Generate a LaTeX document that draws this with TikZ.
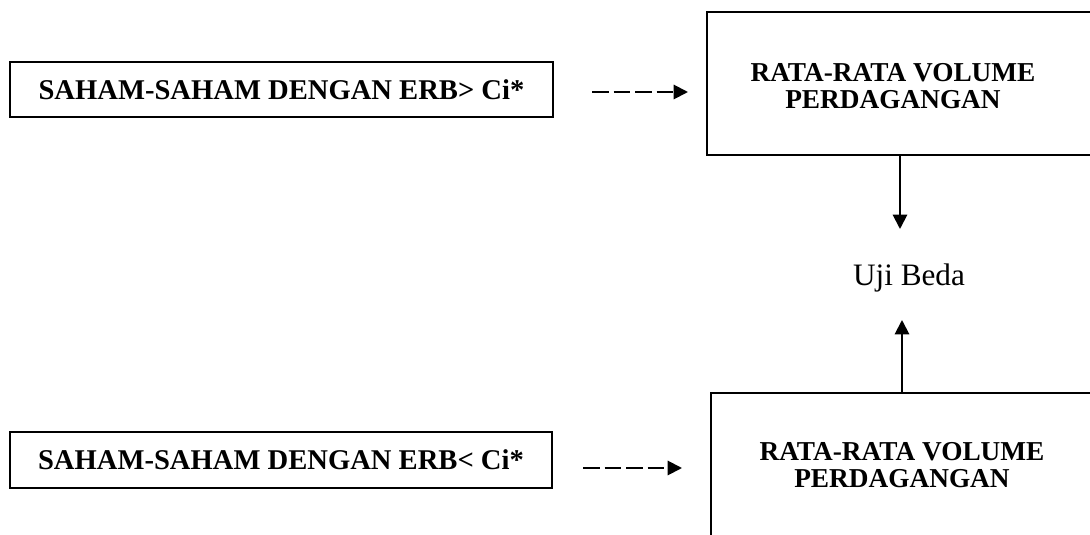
\documentclass[tikz,border=0pt]{standalone}
\usepackage{fontspec}
\setmainfont{Liberation Serif}
\usetikzlibrary{arrows.meta}
\begin{document}
\begin{tikzpicture}[x=0.3846pt, y=-0.3846pt,
  kotak/.style={draw, line width=0.75pt, inner sep=0pt},
  judul/.style={font=\fontsize{11}{13}\selectfont\bfseries},
  isi/.style={font=\fontsize{10.5}{10.4}\selectfont\bfseries, align=center},
  panah/.style={-{Triangle[length=5.5pt,width=5.5pt]}, line width=0.75pt},
  putus/.style={panah, dash pattern=on 6.4pt off 1.9pt}]
\pgfmathsetmacro{\W}{1090}
\pgfmathsetmacro{\H}{535}
\useasboundingbox (0,0) rectangle (\W,\H);
\clip (0,0) rectangle (\W,\H);
\node[kotak, judul, minimum width=208.8pt, minimum height=21.2pt] (sa) at (281.5,89.5) {SAHAM-SAHAM DENGAN ERB> Ci*};
\node[kotak, judul, minimum width=208.5pt, minimum height=21.5pt] (sb) at (281,460) {SAHAM-SAHAM DENGAN ERB< Ci*};
\node[kotak, line width=1.1pt, minimum width=162.7pt, minimum height=55pt] (rtop) at (918.5,83.5) {};
\node[kotak, minimum width=161.2pt, minimum height=71.9pt] (rbot) at (920.5,486.5) {};
\node[isi] (rtoptxt) at (893,86) {RATA-RATA VOLUME\\PERDAGANGAN};
\node[isi] (rbottxt) at (902,465) {RATA-RATA VOLUME\\PERDAGANGAN};
\node[font=\fontsize{12}{14}\selectfont] (uji) at (909,278) {Uji Beda};
\coordinate (pa1) at (592,92);
\coordinate (pa2) at (688,92);
\coordinate (pb1) at (583,468);
\coordinate (pb2) at (682,468);
\coordinate (ua) at (900,229);
\coordinate (ub) at (902,320);
\draw[putus] (pa1) -- (pa2);
\draw[putus] (pb1) -- (pb2);
\draw[panah] (rtop.south -| ua) -- (ua);
\draw[panah] (rbot.north -| ub) -- (ub);
\end{tikzpicture}
\end{document}
